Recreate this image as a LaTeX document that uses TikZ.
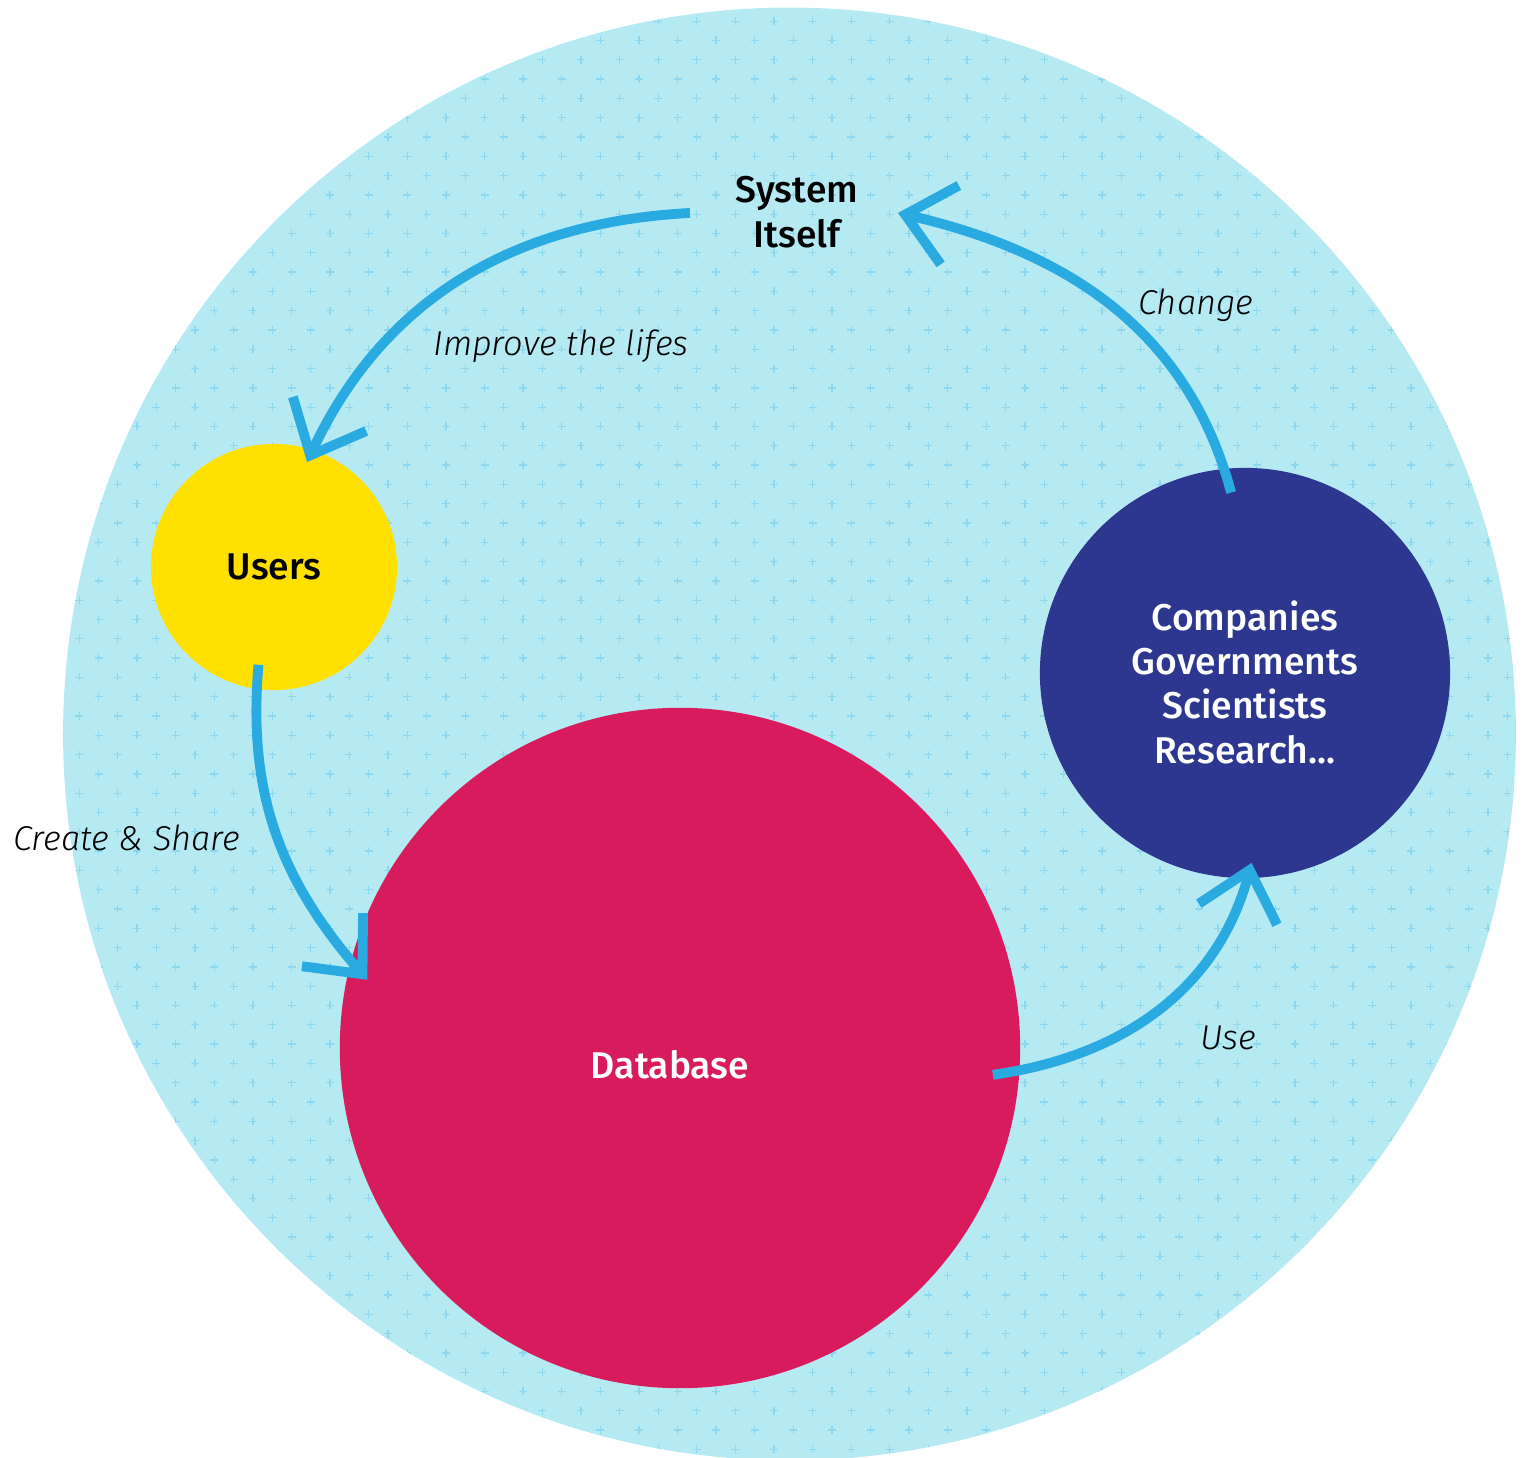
\documentclass[tikz,border=0pt]{standalone}
\usepackage{fontspec}
\setmainfont{Fira Sans}[BoldFont={* Medium},ItalicFont={* Light Italic}]
\usetikzlibrary{arrows.meta}

\definecolor{sea}{HTML}{B6EAF3}
\definecolor{seaplus}{HTML}{8DD7EF}
\definecolor{usercol}{HTML}{FFE000}
\definecolor{dbcol}{HTML}{D81B5C}
\definecolor{orgcol}{HTML}{2E3790}
\definecolor{flowcol}{HTML}{29ABE2}

\begin{document}
\begin{tikzpicture}[x=0.01cm,y=0.01cm,
    blob/.style={circle,inner sep=0pt,outer sep=0pt},
    tag/.style={font=\bfseries\fontsize{10.6}{12.6}\selectfont,align=center},
    flow/.style={draw=flowcol,line width=2.8pt,-{Straight Barb[length=13pt,width=23pt]}},
    say/.style={font=\itshape\fontsize{9.8}{12}\selectfont}]
  \useasboundingbox (0,0) rectangle (1524,1458);
  % backdrop with the little crosses
  \begin{scope}
    \fill[sea] (789.5,724) circle[radius=7.26cm];
    \clip (789.5,724) circle[radius=7.26cm];
    \draw[seaplus,line width=0.38pt] foreach \m in {-9,...,29}{foreach \n in {-4,...,35}{
        (388+38.6*\m,1321-38.6*\n) +(-4,0) -- +(4,0) +(0,-4) -- +(0,4)
        (368.7+38.6*\m,1301.7-38.6*\n) +(-4,0) -- +(4,0) +(0,-4) -- +(0,4)}};
  \end{scope}

  \node[blob,fill=usercol,minimum size=2.46cm,tag] (users) at (274,891) {Users};
  \node[blob,fill=dbcol,minimum size=6.8cm] (db) at (680,410) {};
  \node[tag,text=white] (dbname) at (670,393) {Database};
  \node[blob,fill=orgcol,minimum size=4.1cm] (comp) at (1245,785) {};
  \node[tag,text=white] (compname) at (1245,776) {Companies\\Governments\\Scientists\\Research...};
  \node[tag] (sys) at (797,1246) {System\\Itself};

  \draw[flow] ([shift={(-107,-1)}]sys.center) to[out=183,in=65] ([shift={(72.5:110)}]users.center);
  \draw[flow] ([shift={(261:99)}]users.center) to[out=265,in=131] ([shift={(167.7:320)}]db.center);
  \draw[flow] ([shift={(-4.9:314)}]db.center) to[out=8,in=255] ([shift={(272:190)}]comp.center);
  \draw[flow] ([shift={(94.4:181)}]comp.center) to[out=105,in=-13] ([shift={(101,-1)}]sys.center);

  \node[say] (improve) at (561,1112) {Improve the lifes};
  \node[say] (change) at (1196,1153) {Change};
  \node[say] (share) at (127,620) {Create \& Share};
  \node[say] (use) at (1228,420) {Use};
\end{tikzpicture}
\end{document}
